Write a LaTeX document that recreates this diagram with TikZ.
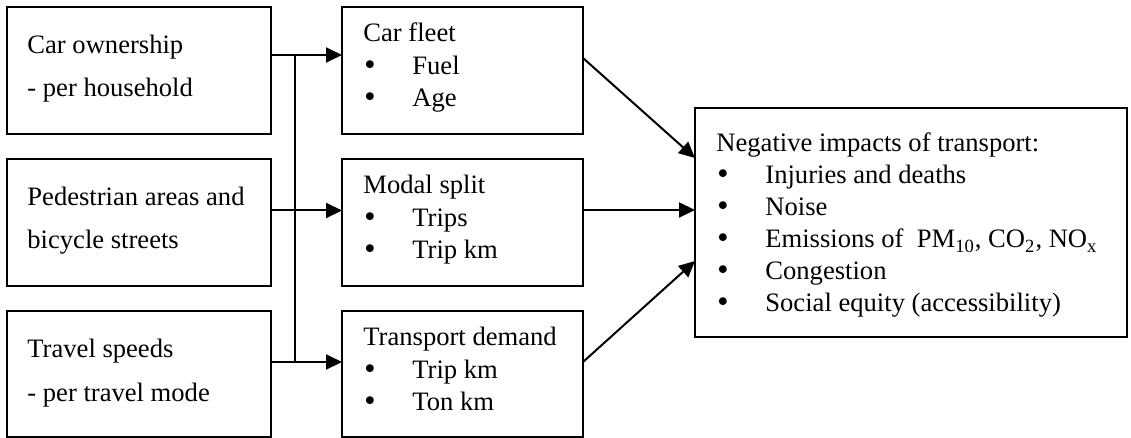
\documentclass[tikz,border=0pt]{standalone}
\usepackage{fontspec}
\setmainfont{Liberation Serif}
\newfontfamily\bulletfont{DejaVu Sans}
\usetikzlibrary{arrows.meta}

% bullet item with a fixed indent for the item text
\newcommand{\bitem}[1]{\makebox[24.5pt][l]{\hspace{-0.6pt}\bulletfont •}#1}

\begin{document}
\begin{tikzpicture}[x=0.5pt, y=-0.5pt,
  box/.style={draw, line width=1pt, rectangle, inner sep=0pt, outer sep=0pt, anchor=north west},
  lefttxt/.style={anchor=base west, inner sep=0pt, font=\fontsize{13.3pt}{21.5pt}\selectfont},
  listtxt/.style={anchor=base west, inner sep=0pt, font=\fontsize{13.3pt}{16.25pt}\selectfont},
  conn/.style={line width=1pt},
  arr/.style={conn, -{Triangle[length=8pt, width=7.5pt]}}]
\useasboundingbox (0,0) rectangle (1131,438);

% left column: policy boxes
\node[box, minimum width=132pt, minimum height=63.5pt] (L1) at (7,7) {};
\node[box, minimum width=132pt, minimum height=63.5pt] (L2) at (7,159) {};
\node[box, minimum width=132pt, minimum height=63pt] (L3) at (7,311) {};

% middle column
\node[box, minimum width=120.5pt, minimum height=63.5pt] (M1) at (342,7) {};
\node[box, minimum width=120.5pt, minimum height=63.5pt] (M2) at (342,159) {};
\node[box, minimum width=120.5pt, minimum height=63pt] (M3) at (342,311) {};

% right column
\node[box, minimum width=216pt, minimum height=114.5pt] (R) at (695,108) {};

% texts
\node[lefttxt] (L1t) at (27,54) {\begin{tabular}[t]{@{}l@{}}Car ownership\\- per household\end{tabular}};
\node[lefttxt] (L2t) at (27,206) {\begin{tabular}[t]{@{}l@{}}Pedestrian areas and\\bicycle streets\end{tabular}};
\node[lefttxt] (L3t) at (27,358) {\begin{tabular}[t]{@{}l@{}}Travel speeds\\- per travel mode\end{tabular}};

\node[listtxt] (M1t) at (363,42) {\begin{tabular}[t]{@{}l@{}}Car fleet\\\bitem{Fuel}\\\bitem{Age}\end{tabular}};
\node[listtxt] (M2t) at (363,194) {\begin{tabular}[t]{@{}l@{}}Modal split\\\bitem{Trips}\\\bitem{Trip km}\end{tabular}};
\node[listtxt] (M3t) at (363,346) {\begin{tabular}[t]{@{}l@{}}Transport demand\\\bitem{Trip km}\\\bitem{Ton km}\end{tabular}};

\node[listtxt, font=\fontsize{13.3pt}{16pt}\selectfont] (Rt) at (716,152) {\begin{tabular}[t]{@{}l@{}}Negative impacts of transport:\\
\bitem{Injuries and deaths}\\
\bitem{Noise}\\
\bitem{Emissions of \ PM\textsubscript{10}, CO\textsubscript{2}, NO\textsubscript{x}}\\
\bitem{Congestion}\\
\bitem{Social equity (accessibility)}\end{tabular}};

% connectors from the left column
\coordinate (r1) at (295,55);
\coordinate (r2) at (295,210.5);
\coordinate (r3) at (295,362);
\draw[arr] (L1.east |- r1) -- (M1.west |- r1);
\draw[arr] (L2.east |- r2) -- (M2.west |- r2);
\draw[arr] (L3.east |- r3) -- (M3.west |- r3);
\draw[conn] (r1) -- (r3);

% connectors into the impacts box
\draw[arr] ([yshift=6.25pt]M1.east) -- ([yshift=32.25pt]R.west);
\draw[arr] ([yshift=6.25pt]M2.east) -- ([yshift=6.25pt]R.west);
\draw[arr] ([yshift=6pt]M3.east) -- ([yshift=-19.25pt]R.west);
\end{tikzpicture}
\end{document}
